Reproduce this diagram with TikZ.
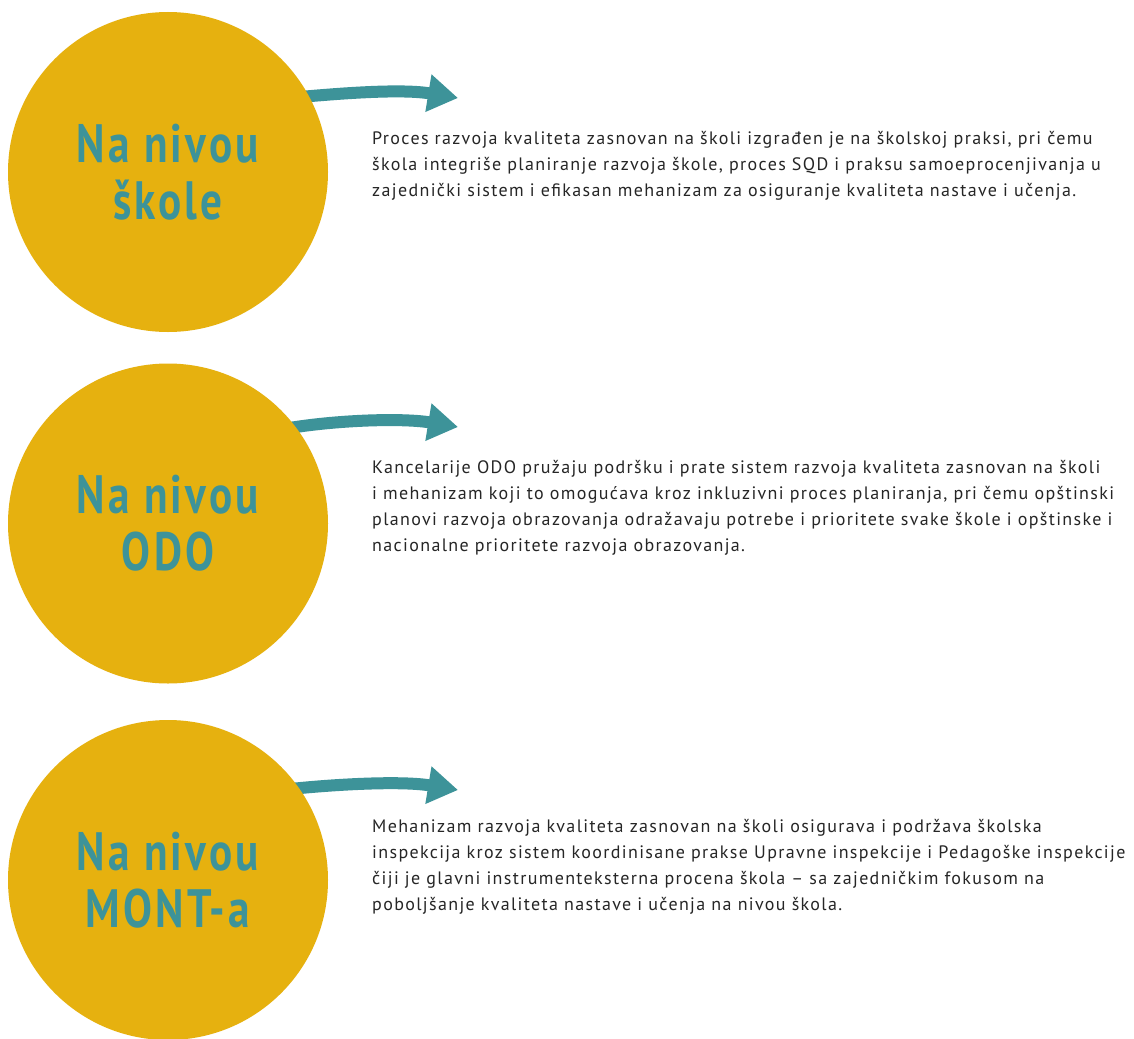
\documentclass[tikz,border=0pt]{standalone}
\usepackage{fontspec}
\setmainfont[LetterSpace=7.5]{PT Sans}
\newfontfamily\titlefont[FakeStretch=0.8,LetterSpace=6]{PT Sans}
\usetikzlibrary{arrows.meta,backgrounds,calc}
\definecolor{gold}{HTML}{E6B10F}
\definecolor{tealc}{HTML}{3D9399}
\definecolor{bodytext}{HTML}{262626}
\begin{document}
\begin{tikzpicture}[x=1pt,y=-1pt,
  level/.style={circle, fill=gold, minimum size=320pt, inner sep=0pt, align=center,
    text=tealc, font=\titlefont\bfseries\fontsize{54}{57}\selectfont},
  desc/.style={anchor=west, inner sep=0pt, align=left, text=bodytext,
    font=\fontsize{18}{26}\selectfont},
  flow/.style={draw=tealc, line width=12pt, -{Triangle[length=30pt,width=36pt]}}]
\useasboundingbox (0,0) rectangle (1134,1038);

\node[level] (c1) at (168,172) {Na nivou\\škole};
\node[level] (c2) at (168,523.5) {Na nivou\\ODO};
\node[level] (c3) at (168,880) {Na nivou\\MONT-a};

\coordinate (a1) at (458,98);
\coordinate (a2) at (458,427);
\coordinate (a3) at (458,790);

\begin{pgfonlayer}{background}
\fill[white] (0,0) rectangle (1134,1038);
\draw[flow] ($(c1.center)!0.97!(c1.29)$) .. controls +(45,-4) and +(-55,-9) .. (a1);
\draw[flow] ($(c2.center)!0.97!(c2.38)$) .. controls +(50,-8) and +(-55,-9) .. (a2);
\draw[flow] ($(c3.center)!0.97!(c3.36)$) .. controls +(50,-5) and +(-55,-9) .. (a3);
\end{pgfonlayer}

\node[desc] (t1) at (372,166) {Proces razvoja kvaliteta zasnovan na školi izgrađen je na školskoj praksi, pri čemu\\
škola integriše planiranje razvoja škole, proces SQD i praksu samoeprocenjivanja u\\
zajednički sistem i efikasan mehanizam za osiguranje kvaliteta nastave i učenja.};

\node[desc] (t2) at (372,508) {Kancelarije ODO pružaju podršku i prate sistem razvoja kvaliteta zasnovan na školi\\
i mehanizam koji to omogućava kroz inkluzivni proces planiranja, pri čemu opštinski\\
planovi razvoja obrazovanja odražavaju potrebe i prioritete svake škole i opštinske i\\
nacionalne prioritete razvoja obrazovanja.};

\node[desc] (t3) at (372,867) {Mehanizam razvoja kvaliteta zasnovan na školi osigurava i podržava školska\\
inspekcija kroz sistem koordinisane prakse Upravne inspekcije i Pedagoške inspekcije\\
čiji je glavni instrumenteksterna procena škola – sa zajedničkim fokusom na\\
poboljšanje kvaliteta nastave i učenja na nivou škola.};
\end{tikzpicture}
\end{document}
